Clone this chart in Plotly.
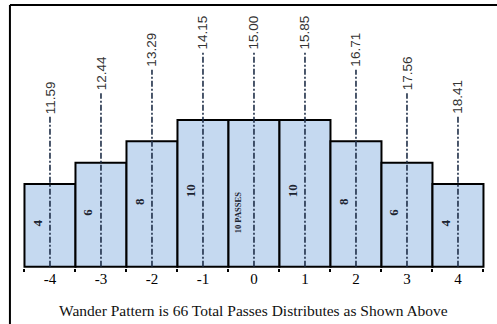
'''
    Wander pattern: passes distributed over lateral offsets
'''

import plotly.graph_objects as go

# data
offsets = [-4, -3, -2, -1, 0, 1, 2, 3, 4]
passes = [4, 6, 8, 10, 10, 10, 8, 6, 4]
bar_texts = ['4', '6', '8', '10', '10 PASSES', '10', '8', '6', '4']
positions = ['11.59', '12.44', '13.29', '14.15', '15.00', '15.85', '16.71', '17.56', '18.41']
label_levels = [10.3, 12.5, 14.7, 16.3, 16.3, 16.3, 14.7, 12.5, 10.3]
caption = 'Wander Pattern is 66 Total Passes Distributes as Shown Above'

BASE = -3.72   # bars in the original start below zero
SERIF = 'Liberation Serif'
SANS = 'Liberation Sans'


def init_figure():
    fig = go.Figure()
    fig.update_layout(
        width=497, height=324,
        margin=dict(l=0, r=0, t=0, b=56),
        paper_bgcolor='white', plot_bgcolor='white',
        showlegend=False,
    )
    return fig


def draw_bars(fig):
    fig.add_trace(go.Bar(
        x=offsets, y=[p - BASE for p in passes], base=BASE, width=1.0,
        marker=dict(color='#c5d9f0', line=dict(color='black', width=2)),
        hoverinfo='skip',
    ))
    for x, p, txt in zip(offsets, passes, bar_texts):
        small = 'PASSES' in txt
        fig.add_annotation(
            x=x, y=(BASE + p) / 2, text='<b>' + txt + '</b>', textangle=-90,
            showarrow=False, xshift=-16 if small else -13, yshift=-19 if small else 3,
            font=dict(family=SERIF, size=8.5 if small else 13, color='#1c2430'),
        )
    return fig


def draw_positions(fig):
    for x, lvl, lab in zip(offsets, label_levels, positions):
        fig.add_trace(go.Scatter(
            x=[x, x], y=[BASE, lvl], mode='lines',
            line=dict(color='#1f2f48', width=1.6, dash='6px,2px,2px,2px'),
            hoverinfo='skip',
        ))
        fig.add_annotation(
            x=x, y=lvl, text=lab, textangle=-90, showarrow=False,
            xanchor='center', yanchor='bottom', yshift=1,
            font=dict(family=SANS, size=13.5, color='#333'),
        )
    return fig


fig = init_figure()
fig = draw_bars(fig)
fig = draw_positions(fig)

fig.update_xaxes(
    range=[-4.98, 4.765], tickvals=offsets, ticktext=[str(o) for o in offsets],
    ticks='', showgrid=False, zeroline=False, showline=False,
    tickfont=dict(family=SERIF, size=15, color='black'),
    minor=dict(ticks='outside', tick0=0.5, dtick=1, ticklen=3, tickwidth=2,
               tickcolor='black', showgrid=False),
)
fig.update_yaxes(range=[BASE - 0.12, 21.21], visible=False)

fig.add_annotation(
    x=0.51, y=-0.157, xref='paper', yref='paper', yanchor='middle', text=caption,
    showarrow=False, font=dict(family=SERIF, size=15.5, color='#111'),
)

# frame: only the left and top edges are in the picture
fig.add_shape(type='line', xref='paper', yref='paper', x0=0.02, x1=1.0, y0=0.981, y1=0.981,
              line=dict(color='black', width=2))
fig.add_shape(type='line', xref='paper', yref='paper', x0=0.02, x1=0.02, y0=0.981, y1=-0.21,
              line=dict(color='black', width=2))

# drop the default page margin so the figure sits at the window's corner
fig.write_html('out.html', config={'displayModeBar': False},
               post_script="document.body.style.margin='0';")
